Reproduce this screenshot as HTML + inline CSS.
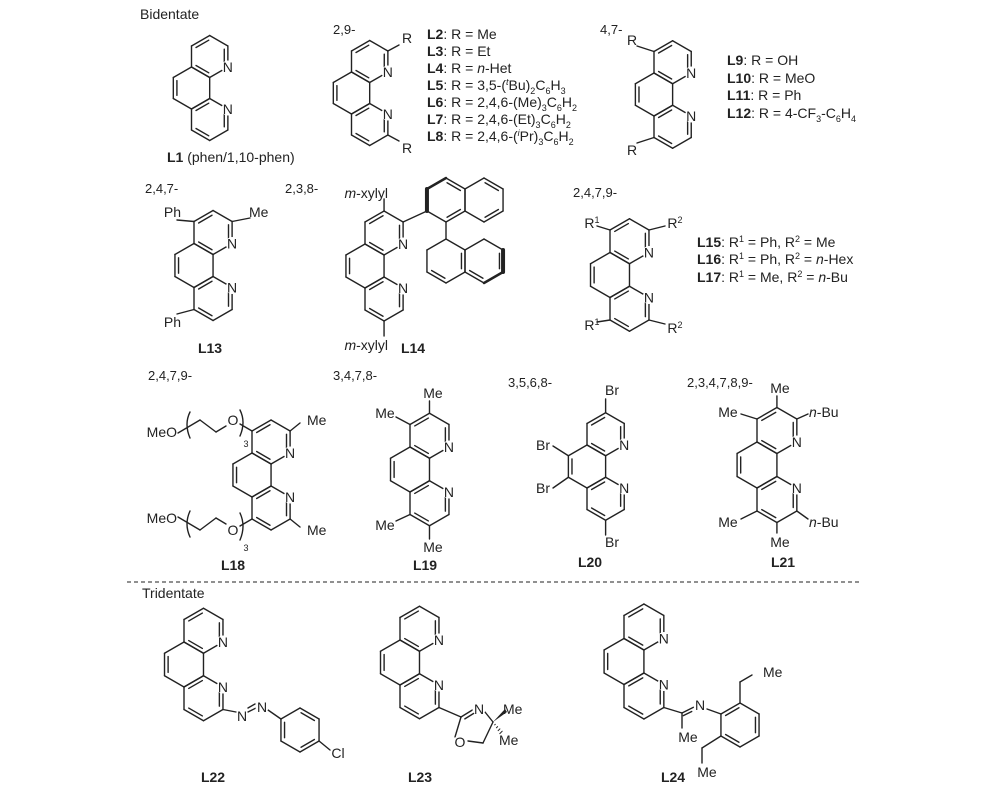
<!DOCTYPE html>
<html><head><meta charset="utf-8"><style>
html,body{margin:0;padding:0;background:#fff;}
svg{display:block;font-family:"Liberation Sans",Arial,sans-serif;}
text{fill:#222;}
</style></head><body>
<svg id="s" width="1000" height="788" viewBox="0 0 1000 788" xmlns="http://www.w3.org/2000/svg">
<g id="bonds" stroke="#222" stroke-width="1.4" fill="none" stroke-linecap="round"></g>
<g id="labels" font-size="14">
<text x="140" y="19" font-size="14">Bidentate</text>
<text x="333" y="34" font-size="13">2,9-</text>
<text x="600" y="34" font-size="13">4,7-</text>
<text x="167" y="162"><tspan font-weight="bold">L1</tspan> (phen/1,10-phen)</text>
<text x="427" y="39"><tspan font-weight="bold">L2</tspan>: R = Me</text>
<text x="427" y="56"><tspan font-weight="bold">L3</tspan>: R = Et</text>
<text x="427" y="73"><tspan font-weight="bold">L4</tspan>: R = <tspan font-style="italic">n</tspan>-Het</text>
<text x="427" y="90"><tspan font-weight="bold">L5</tspan>: R = 3,5-(<tspan font-size="9" dy="-5" font-style="italic">t</tspan><tspan dy="5">Bu)</tspan><tspan font-size="9" dy="4">2</tspan><tspan dy="-4">C</tspan><tspan font-size="9" dy="4">6</tspan><tspan dy="-4">H</tspan><tspan font-size="9" dy="4">3</tspan></text>
<text x="427" y="107"><tspan font-weight="bold">L6</tspan>: R = 2,4,6-(Me)<tspan font-size="9" dy="4">3</tspan><tspan dy="-4">C</tspan><tspan font-size="9" dy="4">6</tspan><tspan dy="-4">H</tspan><tspan font-size="9" dy="4">2</tspan></text>
<text x="427" y="124"><tspan font-weight="bold">L7</tspan>: R = 2,4,6-(Et)<tspan font-size="9" dy="4">3</tspan><tspan dy="-4">C</tspan><tspan font-size="9" dy="4">6</tspan><tspan dy="-4">H</tspan><tspan font-size="9" dy="4">2</tspan></text>
<text x="427" y="141"><tspan font-weight="bold">L8</tspan>: R = 2,4,6-(<tspan font-size="9" dy="-5" font-style="italic">i</tspan><tspan dy="5">Pr)</tspan><tspan font-size="9" dy="4">3</tspan><tspan dy="-4">C</tspan><tspan font-size="9" dy="4">6</tspan><tspan dy="-4">H</tspan><tspan font-size="9" dy="4">2</tspan></text>
<text x="727" y="65"><tspan font-weight="bold">L9</tspan>: R = OH</text>
<text x="727" y="83"><tspan font-weight="bold">L10</tspan>: R = MeO</text>
<text x="727" y="100"><tspan font-weight="bold">L11</tspan>: R = Ph</text>
<text x="727" y="118"><tspan font-weight="bold">L12</tspan>: R = 4-CF<tspan font-size="9" dy="4">3</tspan><tspan dy="-4">-C</tspan><tspan font-size="9" dy="4">6</tspan><tspan dy="-4">H</tspan><tspan font-size="9" dy="4">4</tspan></text>

<text x="145" y="193" font-size="13">2,4,7-</text>
<text x="285" y="193" font-size="13">2,3,8-</text>
<text x="573" y="197" font-size="13">2,4,7,9-</text>
<text x="210" y="353" font-weight="bold" text-anchor="middle">L13</text>
<text x="413" y="353" font-weight="bold" text-anchor="middle">L14</text>
<text x="697" y="247"><tspan font-weight="bold">L15</tspan>: R<tspan font-size="9" dy="-5">1</tspan><tspan dy="5"> = Ph, R</tspan><tspan font-size="9" dy="-5">2</tspan><tspan dy="5"> = Me</tspan></text>
<text x="697" y="264"><tspan font-weight="bold">L16</tspan>: R<tspan font-size="9" dy="-5">1</tspan><tspan dy="5"> = Ph, R</tspan><tspan font-size="9" dy="-5">2</tspan><tspan dy="5"> = </tspan><tspan font-style="italic">n</tspan>-Hex</text>
<text x="697" y="282"><tspan font-weight="bold">L17</tspan>: R<tspan font-size="9" dy="-5">1</tspan><tspan dy="5"> = Me, R</tspan><tspan font-size="9" dy="-5">2</tspan><tspan dy="5"> = </tspan><tspan font-style="italic">n</tspan>-Bu</text>

<text x="148" y="380" font-size="13">2,4,7,9-</text>
<text x="333" y="380" font-size="13">3,4,7,8-</text>
<text x="508" y="387" font-size="13">3,5,6,8-</text>
<text x="687" y="387" font-size="13">2,3,4,7,8,9-</text>
<text x="233" y="570" font-weight="bold" text-anchor="middle">L18</text>
<text x="425" y="570" font-weight="bold" text-anchor="middle">L19</text>
<text x="590" y="567" font-weight="bold" text-anchor="middle">L20</text>
<text x="783" y="567" font-weight="bold" text-anchor="middle">L21</text>

<text x="142" y="598">Tridentate</text>
<text x="213" y="782" font-weight="bold" text-anchor="middle">L22</text>
<text x="420" y="782" font-weight="bold" text-anchor="middle">L23</text>
<text x="673" y="782" font-weight="bold" text-anchor="middle">L24</text>
</g>
<line x1="127" y1="582" x2="862" y2="582" stroke="#222" stroke-width="1" stroke-dasharray="4,3"/>
<g id="atoms" font-size="14"></g>
</svg>
<script>
var NS="http://www.w3.org/2000/svg";
var B=document.getElementById('bonds'),A=document.getElementById('atoms');
function ln(x1,y1,x2,y2,w){var e=document.createElementNS(NS,'line');e.setAttribute('x1',x1);e.setAttribute('y1',y1);e.setAttribute('x2',x2);e.setAttribute('y2',y2);if(w)e.setAttribute('stroke-width',w);B.appendChild(e);}
function pl(pts){for(var i=0;i<pts.length-1;i++)ln(pts[i][0],pts[i][1],pts[i+1][0],pts[i+1][1]);}
function dbl(p,q,c){ // inner line toward c
 var mx=(p[0]+q[0])/2,my=(p[1]+q[1])/2,dx=c[0]-mx,dy=c[1]-my,d=Math.hypot(dx,dy),o=3.6;
 var ox=dx/d*o,oy=dy/d*o,f=0.15;
 ln(p[0]+(q[0]-p[0])*f+ox,p[1]+(q[1]-p[1])*f+oy,q[0]-(q[0]-p[0])*f+ox,q[1]-(q[1]-p[1])*f+oy);}
function hexv(cx,cy,s){var h=s*Math.sqrt(3)/2;return [[cx,cy-s],[cx+h,cy-s/2],[cx+h,cy+s/2],[cx,cy+s],[cx-h,cy+s/2],[cx-h,cy-s/2]];}
function ring(cx,cy,s,dbls,skip){var v=hexv(cx,cy,s);for(var i=0;i<6;i++){if(skip&&skip.indexOf(i)>=0)continue;ln(v[i][0],v[i][1],v[(i+1)%6][0],v[(i+1)%6][1]);}
 (dbls||[]).forEach(function(i){dbl(v[i],v[(i+1)%6],[cx,cy]);});return v;}
function tx(x,y,t,anchor,it){var e=document.createElementNS(NS,'text');e.setAttribute('x',x);e.setAttribute('y',y+5);e.setAttribute('text-anchor',anchor||'middle');if(it)e.setAttribute('font-style','italic');e.innerHTML=t;A.appendChild(e);return e;}
function atom(x,y,t){var c=document.createElementNS(NS,'circle');c.setAttribute('cx',x);c.setAttribute('cy',y);c.setAttribute('r',6.5);c.setAttribute('fill','#fff');A.appendChild(c);tx(x,y,t);}
function phen(cx,cy,s){var h=s*Math.sqrt(3)/2;
 var T=ring(cx+h,cy-1.5*s,s,[5,1,3]);var M=ring(cx,cy,s,[4]);var Bt=ring(cx+h,cy+1.5*s,s,[1,3,5]);
 atom(T[2][0],T[2][1],'N');atom(Bt[1][0],Bt[1][1],'N');
 return {C2:T[1],C3:T[0],C4:T[5],C5:M[5],C6:M[4],C7:Bt[4],C8:Bt[3],C9:Bt[2],h:h,s:s};}
function sub(p,x,y){ln(p[0],p[1],x,y);}
var P;
// L1
phen(191.5,88,21);
// L2
P=phen(351.5,93,21);sub(P.C2,399,45);sub(P.C9,399,141);tx(407,38,'R');tx(407,148,'R');
// L9
P=phen(654,94.5,21.5);sub(P.C4,637,46);sub(P.C7,637,143);tx(632,40,'R');tx(632,150,'R');
// L13
P=phen(194,265.5,22);sub(P.C4,177,220);sub(P.C2,250,218);sub(P.C7,177,314);
tx(181,212,'Ph','end');tx(249,212,'Me','start');tx(181,322,'Ph','end');
// L14
P=phen(365,266,22);sub(P.C3,P.C3[0],199);sub(P.C8,P.C8[0],336);
tx(388,193,'<tspan font-style="italic">m</tspan>-xylyl','end');tx(388,345,'<tspan font-style="italic">m</tspan>-xylyl','end');
var U1=ring(446,200,22,[0,2]),U2=ring(484,200,22,[0,2]),L1r=ring(446,261,22,[1,3]),L2r=ring(484,261,22,[1,3]);
sub(P.C2,427,211);ln(446,222,446,239);
ln(U1[4][0],U1[4][1],U1[5][0],U1[5][1],4);ln(U1[5][0],U1[5][1],U1[0][0],U1[0][1],2.5);
ln(L2r[1][0],L2r[1][1],L2r[2][0],L2r[2][1],4);ln(L2r[2][0],L2r[2][1],L2r[3][0],L2r[3][1],2.5);
// L15
P=phen(610,275,22.5);sub(P.C4,597,226);sub(P.C2,665,226);sub(P.C7,597,322);sub(P.C9,665,324);
tx(592,223,'R<tspan font-size="9" dy="-5">1</tspan>');tx(675,223,'R<tspan font-size="9" dy="-5">2</tspan>');
tx(592,325,'R<tspan font-size="9" dy="-5">1</tspan>');tx(675,328,'R<tspan font-size="9" dy="-5">2</tspan>');
// L18
P=phen(252,475,22);sub(P.C2,300,423);sub(P.C9,300,527);
tx(307,420,'Me','start');tx(307,530,'Me','start');
ln(P.C4[0],P.C4[1],240,424);pl([[226,426],[216,432],[200,420],[178,433]]);
ln(P.C7[0],P.C7[1],240,526);pl([[226,524],[216,518],[200,530],[178,517]]);
tx(233,420,'O');tx(233,530,'O');tx(177,432,'MeO','end');tx(177,518,'MeO','end');
tx(246,442,'3','middle').setAttribute('font-size','9');tx(246,546,'3','middle').setAttribute('font-size','9');
var br=document.createElementNS(NS,'path');br.setAttribute('d','M190 412 Q184 424 190 438 M240 410 Q246 422 240 436 M190 511 Q184 524 190 537 M240 513 Q246 526 240 540');B.appendChild(br);
// L19
P=phen(410,469.5,22.5);sub(P.C3,P.C3[0],401);sub(P.C4,396,417);sub(P.C7,396,521);sub(P.C8,P.C8[0],539);
tx(433,393,'Me');tx(385,413,'Me');tx(385,525,'Me');tx(433,547,'Me');
// L20
P=phen(587,466.5,21.5);sub(P.C3,P.C3[0],399);sub(P.C5,553,446);sub(P.C6,553,488);sub(P.C8,P.C8[0],535);
tx(612,390,'Br');tx(543,445,'Br');tx(543,488,'Br');tx(612,542,'Br');
// L21
P=phen(757,465,23);sub(P.C3,P.C3[0],396);sub(P.C4,741,414);sub(P.C2,808,414);sub(P.C7,741,519);sub(P.C8,P.C8[0],533);sub(P.C9,808,519);
tx(780,388,'Me');tx(728,412,'Me');tx(728,522,'Me');tx(780,542,'Me');
tx(809,412,'<tspan font-style="italic">n</tspan>-Bu','start');tx(809,522,'<tspan font-style="italic">n</tspan>-Bu','start');
// L22
P=phen(184,664.5,22.5);sub(P.C9,236,712);ln(248,712,256,708);ln(248,708,255,704);
atom(242,716,'N');atom(262,707,'N');
var R=ring(300,730,22,[0,2,4]);ln(268,710,R[5][0],R[5][1]);ln(R[2][0],R[2][1],330,750);tx(338,753,'Cl');
// L23
P=phen(400,662.5,22.5);sub(P.C9,461,717);
pl([[461,717],[474,709]]);dbl([461,717],[474,709],[478,730]);
pl([[485,712],[493,722],[483,743],[468,741]]);ln(455,737,461,717);
atom(479,709,'N');atom(460,742,'O');
var w=document.createElementNS(NS,'polygon');w.setAttribute('points','493,722 505,709 507,712');w.setAttribute('fill','#222');A.appendChild(w);
for(var i=1;i<5;i++){var f=i/5;ln(493+(503-493)*f-1.5*f,722+(735-722)*f+1.5*f,493+(503-493)*f+1.5*f,722+(735-722)*f-1.5*f,1);}
tx(503,709,'Me','start');tx(499,740,'Me','start');
// L24
P=phen(624,661.5,23);sub(P.C9,682,713);ln(682,713,694,707);dbl([682,713],[694,707],[684,740]);
ln(682,713,682,728);tx(688,737,'Me');atom(700,705,'N');
R=ring(740,725,22,[1,3,5]);ln(707,709,R[5][0],R[5][1]);
pl([R[0],[740,682],[752,675]]);tx(763,672,'Me','start');
pl([R[4],[702,748],[702,763]]);tx(707,772,'Me');
</script>
</body></html>
